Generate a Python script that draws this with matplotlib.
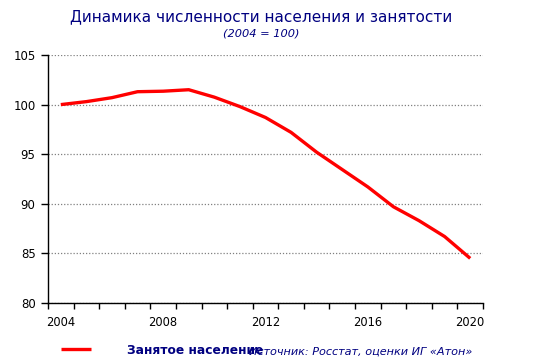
import matplotlib
matplotlib.use("Agg")
import matplotlib.pyplot as plt
from matplotlib.ticker import FixedLocator

# Data (2004 = 100)
years = list(range(2004, 2021))
employed = [100.0, 100.3, 100.7, 101.3, 101.35, 101.5, 100.75, 99.8, 98.7,
            97.2, 95.2, 93.45, 91.7, 89.7, 88.3, 86.7, 84.5]
year_labels = ["2004", "2008", "2012", "2016", "2020"]
yticks = [80, 85, 90, 95, 100, 105]

title = "Динамика численности населения и занятости"
subtitle = "(2004 = 100)"
series_name = "Занятое население"
source = "Источник: Росстат, оценки ИГ «Атон»"

navy = "#000080"

plt.rcParams['font.family'] = ['DejaVu Sans']

fig = plt.figure(figsize=(5.36, 3.6), dpi=100)
ax = fig.add_axes([48 / 536, 1 - 303 / 360, 435 / 536, 248 / 360])

x = list(range(len(years)))
line, = ax.plot(x, employed, color="#ff0000", linewidth=2.4,
                solid_capstyle="butt", solid_joinstyle="round")

ax.set_xlim(-0.5, len(years) - 0.5)
ax.set_ylim(80, 105)

# category boundaries as tick marks, labels every 4 years
ax.xaxis.set_minor_locator(FixedLocator([i - 0.5 for i in range(len(years) + 1)]))
ax.set_xticks([years.index(int(y)) for y in year_labels])
ax.set_xticklabels(year_labels)
ax.tick_params(axis="x", which="major", length=0, pad=9, labelsize=8.3)
ax.tick_params(axis="x", which="minor", length=4, width=1, direction="out")

ax.set_yticks(yticks)
ax.tick_params(axis="y", length=5, width=1, direction="out", pad=4, labelsize=8.5)

ax.grid(axis="y", color="#808080", linestyle=(0, (1, 1.5)), linewidth=0.9)
ax.set_axisbelow(True)

for side in ["top", "right"]:
    ax.spines[side].set_visible(False)
for side in ["left", "bottom"]:
    ax.spines[side].set_linewidth(1)

fig.text(261 / 536, 1 - 17 / 360, title, ha="center", va="center",
         fontsize=11, color=navy)
fig.text(261 / 536, 1 - 33 / 360, subtitle, ha="center", va="center",
         fontsize=8.2, style="italic", color=navy)

leg = fig.legend([line], [series_name], loc="center left",
                 bbox_to_anchor=(56 / 536, 1 - 350 / 360), frameon=False,
                 prop={"weight": "bold", "size": 8.8},
                 handlelength=2.5, handletextpad=2.9, borderaxespad=0)
for t in leg.get_texts():
    t.set_color(navy)

fig.text(249 / 536, 1 - 352 / 360, source, ha="left", va="center",
         fontsize=8.1, style="italic", color=navy)

fig.savefig("out.png", dpi=100)
